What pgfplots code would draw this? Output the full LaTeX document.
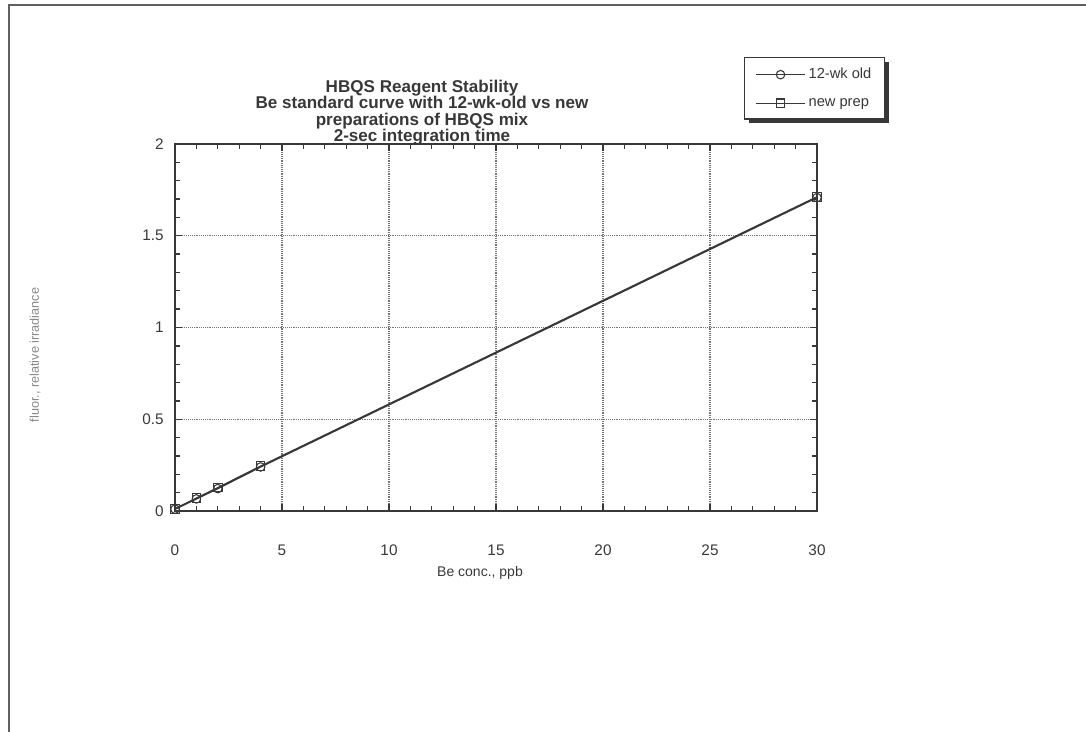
\documentclass[border=0pt]{standalone}
\usepackage{pgfplots}
\pgfplotsset{compat=1.18}
\usepackage{fontspec}
\setmainfont{Liberation Sans}
\definecolor{ink}{gray}{0.22}
\begin{document}
\begin{tikzpicture}
\path[use as bounding box] (0pt,0pt) rectangle (814.5pt,549pt);
% page frame (top and left edges visible)
\draw[line width=1.4pt, ink!80] (6.5pt,0pt) -- (6.5pt,545pt) -- (814.5pt,545pt);
\begin{axis}[
  at={(131.25pt,165.75pt)}, anchor=origin,
  scale only axis, width=481.5pt, height=275.25pt,
  xmin=0, xmax=30, ymin=0, ymax=2,
  xtick={0,5,...,30}, ytick={0,0.5,1,1.5,2},
  minor x tick num=4, minor y tick num=4,
  tick align=inside, major tick length=5pt, minor tick length=4pt,
  tick style={ink, line width=1pt},
  axis line style={ink, line width=1.3pt},
  grid=major, major grid style={ink!70, densely dotted, line width=0.8pt},
  ticklabel style={font=\fontsize{11.5}{13}\selectfont, text=ink},
  xticklabel style={yshift=-22pt},
  yticklabel style={xshift=-5pt},
  /pgf/number format/assume math mode=true,
  legend style={name=leg, at={(0.886,1.237)}, anchor=north west, draw=ink, line width=1pt,
    fill=white, font=\fontsize{11}{13}\selectfont, row sep=9pt, inner xsep=8pt, inner ysep=6pt,
    text=ink},
  legend cell align=left,
  legend image code/.code={%
    \draw[#1, mark=none] (0cm,0cm) -- (1.3cm,0cm);
    \draw[#1, draw=none] plot coordinates {(0.65cm,0cm)};},
]
\addplot[ink, line width=1.1pt, mark=o, mark size=3.2pt, mark options={solid, line width=0.8pt, draw=ink}]
  coordinates {(0,0.010) (1,0.066) (2,0.122) (4,0.240) (30,1.708)};
\addlegendentry{12-wk old}
\addplot[ink, line width=1.1pt, mark=square, mark size=3.2pt, mark options={solid, line width=0.8pt, draw=ink}]
  coordinates {(0,0.012) (1,0.070) (2,0.127) (4,0.244) (30,1.712)};
\addlegendentry{new prep}
\end{axis}
% legend drop shadow
\draw[ink, line width=2.6pt] ([shift={(4pt,-1.3pt)}]leg.south west) -- ([shift={(1.3pt,-1.3pt)}]leg.south east) -- ([shift={(1.3pt,-4pt)}]leg.north east);
\node[align=center, font=\bfseries\fontsize{12.8}{12.3}\selectfont, text=ink] at (316.5pt,464.5pt)
  {HBQS Reagent Stability\\Be standard curve with 12-wk-old vs new\\preparations of HBQS mix\\2-sec integration time};
\node[font=\fontsize{10.5}{12}\selectfont, text=ink] at (360pt,119.25pt) {Be conc., ppb};
\node[rotate=90, font=\fontsize{9.5}{11}\selectfont, text=ink!60] at (26.25pt,282.75pt) {fluor., relative irradiance};
\end{tikzpicture}
\end{document}
